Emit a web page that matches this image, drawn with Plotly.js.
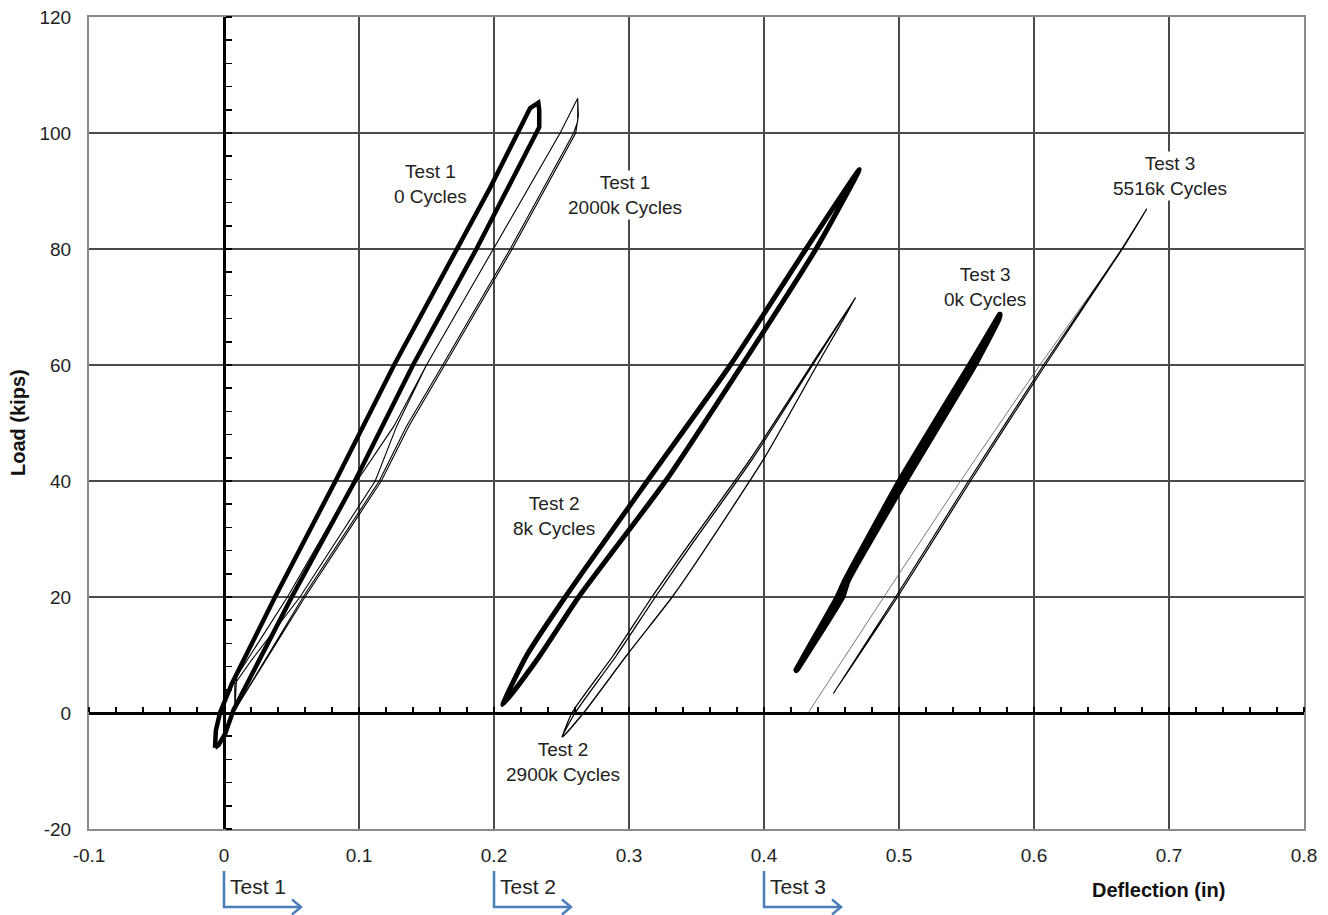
<!DOCTYPE html>
<html>
<head>
<meta charset="utf-8">
<script src="https://cdn.plot.ly/plotly-3.0.1.min.js"></script>
<style>html,body{margin:0;padding:0;background:#fff;}#chart{width:1328px;height:915px;}</style>
</head>
<body>
<div id="chart"></div>
<script>
// ---------- data ----------
// Test 1, 0 cycles (deflection in, load kips)
const t1c0_x = [-0.0067, -0.006, -0.003, 0.0057, 0.0378, 0.0826, 0.126, 0.173, 0.197, 0.2268, 0.2328, 0.2335, 0.2335, 0.187, 0.140, 0.097, 0.0502, 0.007, 0.001, -0.004, -0.0067];
const t1c0_y = [-6, -3, 0, 5, 20, 40, 60, 80, 90.5, 104.3, 105.2, 104, 101, 80, 60, 40, 20, 0.5, -3.5, -5.5, -6];
// Test 1, 2000k cycles
const t1c2000_x = [0.008, 0.008, 0.020, 0.0563, 0.112, 0.128, 0.150, 0.1995, 0.249, 0.262, 0.262, 0.259, 0.212, 0.162, 0.1353, 0.115, 0.0586, 0.008,
                   0.0094, 0.047, 0.086, 0.126, 0.150, 0.1995, 0.249, 0.262, 0.2625, 0.2605, 0.2135, 0.1635, 0.137, 0.1165, 0.060, 0.008];
const t1c2000_y = [0.5, 5, 9, 20, 40, 49.5, 60, 80, 100, 106, 102, 100, 80, 60, 49.5, 40, 20, 0.5,
                   6.3, 20, 35.7, 49.5, 60, 80, 100, 106, 103, 100, 80, 60, 49.5, 40, 20, 0.5];
// Test 2, 8k cycles
const t2c8_x = [0.2066, 0.2244, 0.2528, 0.3136, 0.3751, 0.4311, 0.4706, 0.4385, 0.3837, 0.3271, 0.2627, 0.2343, 0.2066];
const t2c8_y = [1.4, 10, 20, 40, 60, 80, 93.7, 80, 60, 40, 20, 10, 1.4];
// Test 2, 2900k cycles
const t2c2900_x = [0.2503, 0.2577, 0.2886, 0.317, 0.3455, 0.3899, 0.4351, 0.4678, 0.4393, 0.3998, 0.3455, 0.332, 0.2985, 0.2663, 0.2503,
                   0.2600, 0.2910, 0.3195, 0.3475, 0.3915, 0.4360, 0.4678];
const t2c2900_y = [-4.2, 0, 10, 20, 29.4, 43.8, 60, 71.6, 60, 43.8, 24.5, 20, 10, 0, -4.2,
                   0, 10, 20, 29.4, 43.8, 60, 71.6];
// Test 3, 0k cycles
const t3c0_x = [0.424, 0.4545, 0.4600, 0.5005, 0.5525, 0.5730, 0.5747, 0.5735, 0.5560, 0.5045, 0.4620, 0.4580, 0.424];
const t3c0_y = [7.4, 20, 22.8, 40, 60, 68.0, 68.7, 67.8, 60, 40, 22.8, 20, 7.4];
// Test 3, 5516k cycles: first loading line and the following cycles
const t3c5516first_x = [0.4332, 0.4888, 0.5456, 0.6044, 0.6654, 0.6835];
const t3c5516first_y = [0.2, 20, 40, 60, 80, 86.9];
const t3c5516_x = [0.6835, 0.6654, 0.6084, 0.553, 0.4989, 0.4515, 0.4975, 0.5515, 0.6070, 0.665, 0.6835];
const t3c5516_y = [86.9, 80, 60, 40, 20, 3.4, 20, 40, 60, 80, 86.9];

// curve labels
const labelText = ['Test 1<br>0 Cycles', 'Test 1<br>2000k Cycles', 'Test 2<br>8k Cycles',
                   'Test 2<br>2900k Cycles', 'Test 3<br>0k Cycles', 'Test 3<br>5516k Cycles'];
const labelX = [0.1527, 0.2973, 0.2443, 0.2509, 0.5634, 0.7005];
const labelY = [91.2, 89.3, 34.0, -8.5, 73.4, 92.6];

// axis ticks
const xRange = [-0.1, 0.8];
const yRange = [-20, 120];
const xTickVals = [-0.1, 0, 0.1, 0.2, 0.3, 0.4, 0.5, 0.6, 0.7, 0.8];
const xTickText = ['-0.1', '0', '0.1', '0.2', '0.3', '0.4', '0.5', '0.6', '0.7', '0.8'];
const yTickVals = [-20, 0, 20, 40, 60, 80, 100, 120];
const yTickText = ['-20', '0', '20', '40', '60', '80', '100', '120'];

// test start markers under the axis
const testStarts = [0, 0.2, 0.4];
const testNames = ['Test 1', 'Test 2', 'Test 3'];

// ---------- chart ----------
const FONT = 'Arial, "Liberation Sans", sans-serif';
const W = 1328, H = 915, M = {l: 89, r: 24, t: 17, b: 86};
const PW = W - M.l - M.r, PH = H - M.t - M.b;
const px2paperY = p => (H - M.b - p) / PH;   // pixel row -> paper y
const toPaperX = v => (v - xRange[0]) / (xRange[1] - xRange[0]);

function line(x, y, w, c, smooth) {
  const l = {color: c || '#000', width: w, shape: smooth ? 'spline' : 'linear'};
  if (smooth) l.smoothing = smooth;
  return {type: 'scatter', mode: 'lines', x: x, y: y, hoverinfo: 'skip', showlegend: false, line: l};
}

const traces = [
  line(t1c2000_x, t1c2000_y, 1.1),
  line(t1c0_x, t1c0_y, 4.5),
  line(t2c2900_x, t2c2900_y, 1.3, '#000', 0.6),
  line(t2c8_x, t2c8_y, 5, '#000', 0.6),
  line(t3c5516first_x, t3c5516first_y, 0.8, '#555', 0.5),
  line(t3c5516_x, t3c5516_y, 1.2, '#000', 0.5),
  line(t3c0_x, t3c0_y, 6, '#000', 0.4),
  {type: 'scatter', mode: 'markers', x: [null], y: [null], xaxis: 'x2', yaxis: 'y2', showlegend: false, hoverinfo: 'skip'}
];

const annotations = labelText.map((t, i) => ({
  text: t, x: labelX[i], y: labelY[i], xref: 'x', yref: 'y', showarrow: false,
  font: {family: FONT, size: 19, color: '#222'}, align: 'center', bgcolor: '#fff', borderpad: 1
}));

const shapes = [];
const yTop = px2paperY(871), yBot = px2paperY(907);
const arrowLen = 77 / PW, headDx = 9 / PW, headDy = 7.5 / PH;
testStarts.forEach((s, i) => {
  const x0 = toPaperX(s), x1 = x0 + arrowLen;
  shapes.push({type: 'path', xref: 'paper', yref: 'paper',
               path: `M${x0},${yTop} L${x0},${yBot} L${x1},${yBot}`,
               line: {color: '#4a7ebb', width: 2.5}});
  shapes.push({type: 'path', xref: 'paper', yref: 'paper',
               path: `M${x1 - headDx},${yBot + headDy} L${x1},${yBot} L${x1 - headDx},${yBot - headDy}`,
               line: {color: '#4a7ebb', width: 2.5}});
  annotations.push({text: testNames[i], xref: 'paper', yref: 'paper', x: x0 + 4 / PW, y: px2paperY(886),
                    xanchor: 'left', yanchor: 'middle', showarrow: false,
                    font: {family: FONT, size: 21, color: '#222'}});
});

annotations.push({text: '<b>Deflection (in)</b>', xref: 'paper', yref: 'paper',
                  x: (1158 - M.l) / PW, y: px2paperY(890), xanchor: 'center', yanchor: 'middle',
                  showarrow: false, font: {family: FONT, size: 20, color: '#111'}});
annotations.push({text: '<b>Load (kips)</b>', xref: 'paper', yref: 'paper',
                  x: (18 - M.l) / PW, y: 0.5, xanchor: 'center', yanchor: 'middle', textangle: -90,
                  showarrow: false, font: {family: FONT, size: 20, color: '#111'}});

const axisCommon = {
  showgrid: true, gridcolor: '#4a4a4a', gridwidth: 2, zeroline: false,
  showline: true, linecolor: '#8a8a8a', linewidth: 2, mirror: true, ticks: '',
  tickfont: {family: FONT, size: 19, color: '#222'}, fixedrange: true
};

const layout = {
  width: W, height: H, margin: M, paper_bgcolor: '#fff', plot_bgcolor: '#fff',
  showlegend: false, font: {family: FONT},
  xaxis: Object.assign({}, axisCommon, {range: xRange, tickmode: 'array', tickvals: xTickVals, ticktext: xTickText, ticklabelstandoff: 8}),
  yaxis: Object.assign({}, axisCommon, {range: yRange, tickmode: 'array', tickvals: yTickVals, ticktext: yTickText, ticklabelstandoff: 12}),
  xaxis2: {overlaying: 'x', anchor: 'free', position: (0 - yRange[0]) / (yRange[1] - yRange[0]), side: 'top',
           range: xRange, showgrid: false, zeroline: false, showticklabels: false,
           ticks: 'outside', tick0: 0, dtick: 0.02, ticklen: 5, tickwidth: 1.5, tickcolor: '#000',
           showline: true, linecolor: '#000', linewidth: 3, fixedrange: true},
  yaxis2: {overlaying: 'y', anchor: 'free', position: (0 - xRange[0]) / (xRange[1] - xRange[0]), side: 'right',
           range: yRange, showgrid: false, zeroline: false, showticklabels: false,
           ticks: 'outside', tick0: 0, dtick: 4, ticklen: 6, tickwidth: 1.5, tickcolor: '#000',
           showline: true, linecolor: '#000', linewidth: 3, fixedrange: true},
  annotations: annotations,
  shapes: shapes
};

Plotly.newPlot('chart', traces, layout, {displayModeBar: false, staticPlot: true});
</script>
</body>
</html>
